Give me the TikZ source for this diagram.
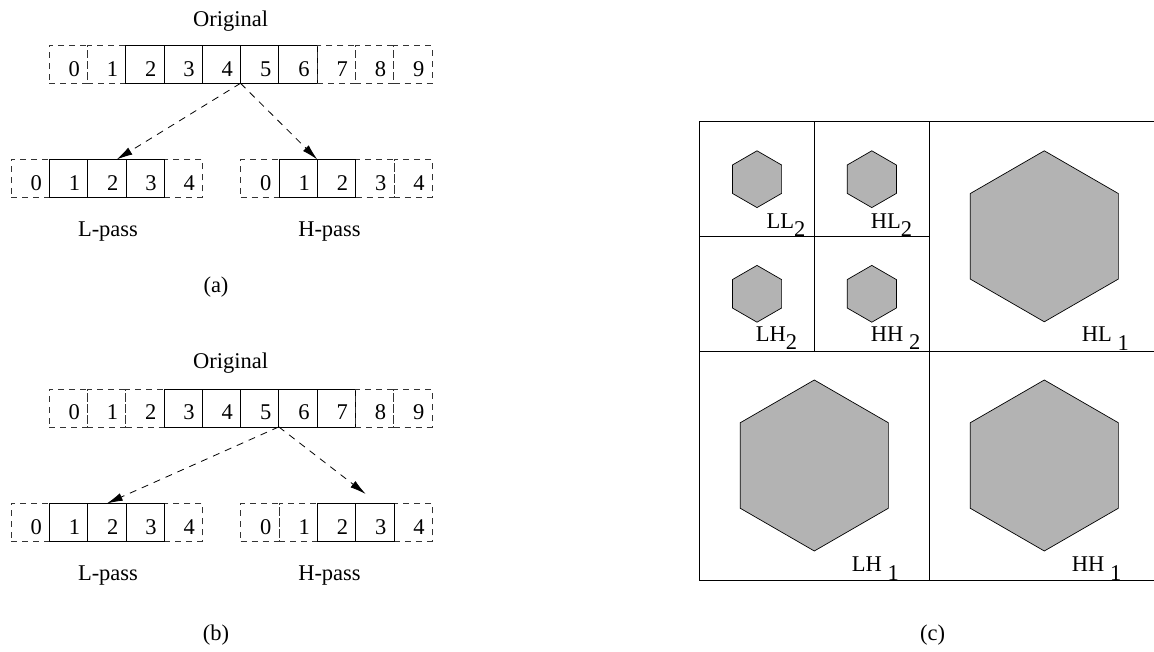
\documentclass[tikz,border=0pt]{standalone}
\usepackage{fontspec}
\setmainfont{Liberation Serif}
\usetikzlibrary{arrows.meta,calc}
\definecolor{hexgray}{RGB}{179,179,179}
\begin{document}
\begin{tikzpicture}[x=1pt,y=-1pt,
  cell/.style={draw=black, line width=0.8pt, minimum width=38.3pt, minimum height=37.6pt,
    inner sep=0pt, outer sep=0pt, anchor=north west,
    font=\fontsize{22.5}{24}\selectfont, text height=23.6pt, text depth=0pt},
  dcell/.style={cell, draw=black!80, dash pattern=on 6pt off 5pt},
  arr/.style={line width=0.8pt, dash pattern=on 7pt off 6pt, -{Latex[length=16pt,width=8pt]}},
  txt/.style={font=\fontsize{22.5}{24}\selectfont, inner sep=0pt},
  sub/.style={font=\fontsize{22.5}{24}\selectfont, inner sep=0pt, anchor=base west},
  grid/.style={line width=0.9pt},
  hex/.style={fill=hexgray, draw=black, line width=0.7pt, line join=miter}
]
\useasboundingbox (0,0) rectangle (1154,652);
\clip (0,0) rectangle (1154,652);

% ---------- (a) ----------
\node[txt, anchor=base] (origA) at (230.6,27) {Original};
\foreach \i/\s in {0/dcell,1/dcell,2/cell,3/cell,4/cell,5/cell,6/cell,7/dcell,8/dcell,9/dcell}
  \node[\s] (a\i) at ({49+38.3*\i},45.7) {\hspace{12pt}\i};
\foreach \i/\s in {0/dcell,1/cell,2/cell,3/cell,4/dcell}
  \node[\s] (al\i) at ({11+38.3*\i},159.5) {\hspace{12pt}\i};
\foreach \i/\s in {0/dcell,1/cell,2/cell,3/dcell,4/dcell}
  \node[\s] (ah\i) at ({240.7+38.3*\i},159.5) {\hspace{12pt}\i};
\foreach \i/\s in {1/cell,2/cell,3/cell}
  \node[\s] (alx\i) at ({11+38.3*\i},159.5) {};
\foreach \i/\s in {1/cell,2/cell}
  \node[\s] (ahx\i) at ({240.7+38.3*\i},159.5) {};
\draw[arr] (a4.south east) -- ($(al2.north west)!0.757!(al2.north east)$);
\draw[arr] (a4.south east) -- (ah1.north east);
\node[txt, anchor=base] (lpA) at (108,236.7) {L-pass};
\node[txt, anchor=base] (hpA) at (329.5,236.7) {H-pass};
\node[txt] (capA) at (216,287) {(a)};

% ---------- (b) ----------
\node[txt, anchor=base] (origB) at (230.6,368.3) {Original};
\foreach \i/\s in {0/dcell,1/dcell,2/dcell,3/cell,4/cell,5/cell,6/cell,7/cell,8/dcell,9/dcell}
  \node[\s] (b\i) at ({49+38.3*\i},389.3) {\hspace{12pt}\i};
\foreach \i/\s in {0/dcell,1/cell,2/cell,3/cell,4/dcell}
  \node[\s] (bl\i) at ({11+38.3*\i},503.5) {\hspace{12pt}\i};
\foreach \i/\s in {0/dcell,1/dcell,2/cell,3/cell,4/dcell}
  \node[\s] (bh\i) at ({240.7+38.3*\i},503.5) {\hspace{12pt}\i};
\foreach \i/\s in {1/cell,2/cell,3/cell}
  \node[\s] (blx\i) at ({11+38.3*\i},503.5) {};
\foreach \i/\s in {2/cell,3/cell}
  \node[\s] (bhx\i) at ({240.7+38.3*\i},503.5) {};
\coordinate (bt) at (365.7,494);
\draw[arr] (b5.south east) -- (bl2.north);
\draw[arr] (b5.south east) -- (bt);
\node[txt, anchor=base] (lpB) at (108,580.7) {L-pass};
\node[txt, anchor=base] (hpB) at (329.5,580.7) {H-pass};
\node[txt] (capB) at (216,635) {(b)};

% ---------- (c) ----------
\draw[grid] (699.3,121.7) rectangle (1159.3,580);
\draw[grid] (929.3,121.7) -- (929.3,580);
\draw[grid] (699.3,351) -- (1159.3,351);
\draw[grid] (814.3,121.7) -- (814.3,351);
\draw[grid] (699.3,236.7) -- (929.3,236.7);
\foreach \cx/\cy/\r in {757/179.2/28.4, 871.8/179.2/28.4, 757/293.8/28.4, 871.8/293.8/28.4,
                        1044.3/236.3/85.5, 814.3/465.5/85.5, 1044.3/465.5/85.5}
  \draw[hex] (\cx,\cy) +(90:\r) -- +(150:\r) -- +(210:\r) -- +(270:\r) -- +(330:\r) -- +(30:\r) -- cycle;
\node[sub] (ll2) at (766.5,228.3) {LL\raisebox{-8pt}{2}};
\node[sub] (hl2) at (870.7,228.3) {HL\raisebox{-8pt}{2}};
\node[sub] (lh2) at (755.7,341.7) {LH\raisebox{-8pt}{2}};
\node[sub] (hh2) at (870.7,341.7) {HH \raisebox{-8pt}{2}};
\node[sub] (hl1) at (1081.7,341.7) {HL \raisebox{-9pt}{1}};
\node[sub] (lh1) at (851.7,571.7) {LH \raisebox{-9pt}{1}};
\node[sub] (hh1) at (1071.7,571.7) {HH \raisebox{-9pt}{1}};
\node[txt] (capC) at (932.5,635) {(c)};
\end{tikzpicture}
\end{document}
